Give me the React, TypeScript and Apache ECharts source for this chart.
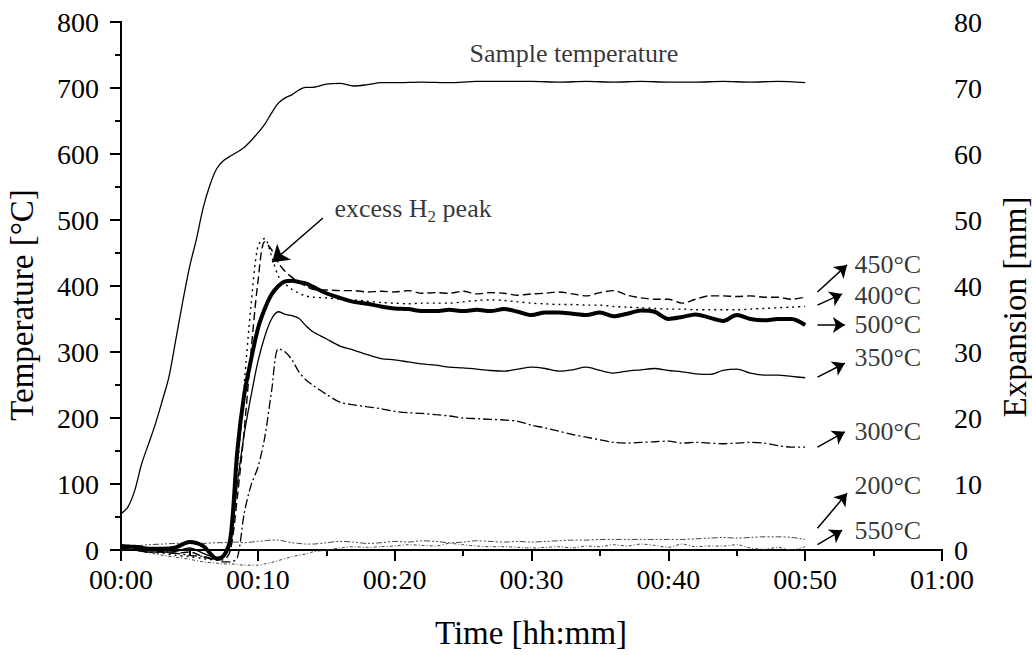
import React, { useEffect, useRef } from "react";
import * as echarts from "echarts";

const FONT = '"Liberation Serif", "Times New Roman", Times, serif';

// Sample temperature (left axis, °C) vs time (minutes)
const tempTime = [0, 0.5, 1, 1.5, 2, 2.5, 3, 3.5, 4, 4.5, 5, 5.5, 6, 6.5, 7, 7.5, 8, 8.5, 9, 9.5, 10, 10.5, 11, 11.5, 12, 12.5, 13, 13.5, 14, 15, 16, 17, 18, 19, 20, 22, 24, 26, 28, 30, 32, 34, 36, 38, 40, 42, 44, 46, 48, 50];
const sampleTemp = [55, 65, 90, 130, 160, 190, 225, 262, 318, 375, 428, 470, 518, 553, 578, 590, 597, 603, 610, 620, 632, 645, 662, 677, 685, 690, 697, 701, 701, 706, 707, 703, 705, 708, 708, 709, 708, 710, 710, 710, 709, 710, 709, 710, 709, 709, 710, 709, 710, 708];

// Expansion curves (right axis, mm) vs time (minutes)
const expTime = [0, 1, 2, 3, 4, 5, 6, 7, 7.5, 8, 8.5, 9, 9.5, 10, 10.5, 11, 11.5, 12, 12.5, 13, 13.5, 14, 15, 16, 17, 18, 19, 20, 21, 22, 23, 24, 25, 26, 27, 28, 29, 30, 31, 32, 33, 34, 35, 36, 37, 38, 39, 40, 41, 42, 43, 44, 45, 46, 47, 48, 49, 50];
const exp500 = [0.5, 0.5, 0.2, 0.2, 0.4, 1.2, 0.6, -1.3, -0.9, 1.8, 15, 23.5, 28.8, 33.5, 36.5, 38.7, 40.0, 40.7, 40.8, 40.6, 40.4, 39.9, 38.9, 38.2, 37.6, 37.3, 36.9, 36.6, 36.5, 36.2, 36.2, 36.4, 36.2, 36.4, 36.2, 36.5, 36.1, 35.6, 36.0, 36.0, 35.8, 35.6, 36.0, 35.4, 35.8, 36.3, 36.1, 35.0, 35.3, 35.7, 35.2, 34.7, 35.6, 35.0, 34.8, 35.0, 35.0, 34.1];
const exp450 = [0.5, 0.3, 0, -0.3, -0.5, -0.3, -1.0, -1.5, -1.5, 0, 8, 18, 30, 40.5, 46.7, 45.5, 43.5, 42.2, 41.3, 40.6, 40.0, 39.5, 39.4, 39.3, 39.3, 39.1, 39.2, 39.1, 39.3, 38.9, 39.0, 38.9, 39.2, 38.8, 39.0, 38.9, 38.6, 38.8, 38.9, 39.1, 38.8, 38.5, 39.0, 39.3, 38.6, 38.2, 38.0, 38.0, 37.4, 38.0, 38.5, 38.5, 38.4, 38.5, 38.3, 38.3, 38.0, 38.3];
const exp400 = [0.3, 0, -0.3, -0.5, -0.8, -1.0, -1.3, -1.5, -1.0, 2, 12, 25, 37, 46, 47.2, 44.5, 41.5, 40.3, 39.5, 38.9, 38.5, 38.3, 38.2, 38.0, 37.9, 37.7, 37.5, 37.4, 37.3, 37.4, 37.4, 37.4, 37.6, 37.8, 37.9, 37.8, 37.6, 37.4, 37.3, 37.2, 37.2, 37.1, 37.1, 36.9, 36.8, 36.7, 36.6, 36.5, 36.5, 36.4, 36.4, 36.4, 36.4, 36.5, 36.6, 36.7, 36.8, 36.9];
const exp350 = [0.3, 0, -0.3, -0.3, -0.2, 0.3, -0.5, -1.2, -1.0, 1, 10, 17.5, 23.3, 28.5, 32.3, 35.0, 36.1, 35.7, 35.5, 35.1, 34.0, 33.1, 32.0, 30.9, 30.3, 29.6, 29.0, 28.8, 28.5, 28.2, 28.0, 27.7, 27.6, 27.4, 27.2, 27.1, 27.4, 27.7, 27.5, 27.1, 27.3, 27.7, 27.2, 26.8, 27.1, 27.3, 27.5, 27.2, 27.0, 26.7, 26.6, 27.2, 27.4, 26.8, 26.5, 26.5, 26.3, 26.1];
const exp300 = [0.8, 0.6, 0.2, -0.2, -0.5, -0.8, -1.0, -1.5, -1.8, -1.8, -1.2, 5.5, 9.8, 12.5, 17, 24, 30.5, 30.0, 28.8, 27.0, 25.8, 25.0, 23.6, 22.4, 22.0, 21.7, 21.4, 21.0, 20.8, 20.7, 20.5, 20.3, 20.0, 19.9, 19.8, 19.7, 19.5, 18.9, 18.5, 18.0, 17.5, 17.1, 16.7, 16.3, 16.2, 16.3, 16.4, 16.5, 16.2, 16.3, 16.2, 16.1, 16.2, 16.3, 16.2, 15.8, 15.6, 15.6];
const exp200 = [0.5, 0.6, 0.8, 0.9, 1.0, 1.1, 1.0, 1.1, 1.1, 1.2, 1.2, 1.1, 1.2, 1.3, 1.4, 1.5, 1.5, 1.3, 1.1, 1.0, 0.9, 0.9, 1.1, 1.3, 1.2, 1.0, 1.1, 1.3, 1.2, 1.4, 1.3, 1.1, 1.2, 1.4, 1.3, 1.2, 1.3, 1.2, 1.3, 1.4, 1.5, 1.5, 1.6, 1.6, 1.6, 1.6, 1.6, 1.6, 1.6, 1.7, 1.8, 1.9, 1.8, 1.9, 2.0, 2.0, 1.9, 1.6];
const exp550 = [0.2, 0, -0.4, -0.8, -1.1, -1.4, -1.8, -2.0, -2.1, -2.1, -2.2, -2.3, -2.3, -2.3, -2.1, -1.9, -1.6, -1.3, -1.0, -0.8, -0.6, -0.3, 0, 0.3, 0.5, 0.4, 0.5, 0.6, 0.8, 0.7, 0.6, 1.0, 0.8, 0.6, 0.5, 0.5, 0.4, 0.3, 0.4, 0.5, 0.3, 0.6, 0.5, 0.8, 0.6, 0.9, 0.7, 0.4, 0.9, 0.5, 0.6, 0.6, 0.8, 0.3, 0.1, 0.4, 0, 0.5];

// Annotations (right axis coordinates)
const curveLabels = ["450°C", "400°C", "500°C", "350°C", "300°C", "200°C", "550°C"];
const curveLabelX = 53.6;
const curveLabelY = [43.2, 38.6, 34.1, 29.2, 17.9, 9.7, 3.0];
const arrowFromX = 50.9;
const arrowFromY = [39.1, 37.1, 34.1, 26.2, 15.6, 3.3, 0.8];
const arrowToX = [53.06, 52.7, 52.9, 52.9, 52.9, 53.06, 52.7];
const arrowToY = [43.2, 38.8, 34.1, 28.3, 17.9, 8.6, 3.0];

const peakLabel = { x: 15.6, y: 51.8 };
const peakArrowFrom = [14.76, 50.3];
const peakArrowTo = [11.04, 43.6];
const sampleLabel = { x: 33.1, y: 753, text: "Sample temperature" };

const pairs = (t: number[], v: number[]) => t.map((x, i) => [x, v[i]]);
const pad = (n: number) => (n < 10 ? "0" + n : "" + n);
const fmtTime = (v: number) => pad(Math.floor(v / 60)) + ":" + pad(Math.round(v % 60));

export default function App() {
  const ref = useRef<HTMLDivElement>(null);
  useEffect(() => {
    document.body.style.margin = "0";
    if (!ref.current) return;
    const chart = echarts.init(ref.current, undefined, { renderer: "svg" });

    const line = (name: string, data: number[], yIdx: number, width: number, type: any, color = "#000", t = expTime) => ({
      name,
      type: "line",
      yAxisIndex: yIdx,
      data: pairs(t, data),
      symbol: "none",
      smooth: 0.3,
      clip: false,
      silent: true,
      lineStyle: { color, width, type },
      z: 3,
    });

    const axisCommon = {
      axisLine: { show: true, lineStyle: { color: "#000", width: 2 } },
      splitLine: { show: false },
      axisLabel: { color: "#000", fontFamily: FONT, fontSize: 28 },
    };

    chart.setOption({
      animation: false,
      backgroundColor: "#fff",
      grid: { left: 121, right: 90, top: 22, bottom: 105, containLabel: false },
      xAxis: [
        {
          type: "value",
          min: 0,
          max: 60,
          interval: 10,
          ...axisCommon,
          axisTick: { show: true, inside: false, length: 11, lineStyle: { color: "#000", width: 2 } },
          minorTick: { show: true, splitNumber: 2, length: 6, lineStyle: { color: "#000", width: 2 } },
          axisLabel: { ...axisCommon.axisLabel, margin: 15, formatter: (v: number) => fmtTime(v) },
        },
        {
          type: "value",
          position: "top",
          min: 0,
          max: 60,
          interval: 10,
          axisLine: { show: true, lineStyle: { color: "#000", width: 2 } },
          axisTick: { show: false },
          axisLabel: { show: false },
          splitLine: { show: false },
        },
      ],
      yAxis: [
        {
          type: "value",
          min: 0,
          max: 800,
          interval: 100,
          ...axisCommon,
          axisTick: { show: true, inside: false, length: 11, lineStyle: { color: "#000", width: 2 } },
          minorTick: { show: true, splitNumber: 2, length: 6, lineStyle: { color: "#000", width: 2 } },
          axisLabel: { ...axisCommon.axisLabel, margin: 22 },
        },
        {
          type: "value",
          position: "right",
          min: 0,
          max: 80,
          interval: 10,
          ...axisCommon,
          axisTick: { show: true, inside: true, length: 11, lineStyle: { color: "#000", width: 2 } },
          minorTick: { show: true, splitNumber: 2, length: 6, lineStyle: { color: "#000", width: 2 } },
          axisLabel: { ...axisCommon.axisLabel, margin: 12 },
        },
      ],
      graphic: [
        {
          type: "text",
          x: 22,
          y: 305,
          rotation: Math.PI / 2,
          style: { text: "Temperature [°C]", font: `33px ${FONT}`, fill: "#000", align: "center", verticalAlign: "middle" },
        },
        {
          type: "text",
          x: 1015,
          y: 307,
          rotation: Math.PI / 2,
          style: { text: "Expansion [mm]", font: `33px ${FONT}`, fill: "#000", align: "center", verticalAlign: "middle" },
        },
        {
          type: "text",
          x: 531,
          y: 633,
          style: { text: "Time [hh:mm]", font: `33px ${FONT}`, fill: "#000", align: "center", verticalAlign: "middle" },
        },
      ],
      series: [
        line("Sample temperature", sampleTemp, 0, 1.3, "solid", "#000", tempTime),
        line("550°C", exp550, 1, 1, [3, 2, 1, 2], "#444"),
        line("200°C", exp200, 1, 1, [6, 2, 2, 2, 2, 2], "#444"),
        line("300°C", exp300, 1, 1.3, [9, 3, 2, 3]),
        line("350°C", exp350, 1, 1.3, "solid"),
        line("400°C", exp400, 1, 1.4, [2, 4]),
        line("450°C", exp450, 1, 1.4, [8, 4]),
        line("500°C", exp500, 1, 4, "solid"),
        {
          type: "scatter",
          yAxisIndex: 1,
          symbolSize: 0,
          silent: true,
          data: curveLabels.map((n, i) => ({ name: n, value: [curveLabelX, curveLabelY[i]] })),
          label: { show: true, position: "right", distance: 0, formatter: "{b}", color: "#000", fontFamily: FONT, fontSize: 26 },
          markLine: {
            silent: true,
            symbol: ["none", "arrow"],
            symbolSize: 12,
            label: { show: false },
            lineStyle: { color: "#000", width: 1.5, type: "solid" },
            emphasis: { disabled: true },
            data: arrowFromY.map((fy, i) => [
              { coord: [arrowFromX, fy] },
              { coord: [arrowToX[i], arrowToY[i]] },
            ]),
          },
          z: 5,
        },
        {
          type: "scatter",
          yAxisIndex: 1,
          symbolSize: 0,
          silent: true,
          data: [{ name: "peak", value: [peakLabel.x, peakLabel.y] }],
          label: {
            show: true,
            position: "right",
            distance: 0,
            formatter: "{n|excess H}{s|2}{n| peak}",
            rich: {
              n: { fontFamily: FONT, fontSize: 26, color: "#000", lineHeight: 34, verticalAlign: "middle" },
              s: { fontFamily: FONT, fontSize: 17, color: "#000", lineHeight: 34, verticalAlign: "bottom" },
            },
          },
          markLine: {
            silent: true,
            symbol: ["none", "arrow"],
            symbolSize: 16,
            label: { show: false },
            lineStyle: { color: "#000", width: 1.5, type: "solid" },
            emphasis: { disabled: true },
            data: [[{ coord: peakArrowFrom }, { coord: peakArrowTo }]],
          },
          z: 5,
        },
        {
          type: "scatter",
          yAxisIndex: 0,
          symbolSize: 0,
          silent: true,
          data: [{ name: sampleLabel.text, value: [sampleLabel.x, sampleLabel.y] }],
          label: { show: true, position: "inside", formatter: "{b}", color: "#000", fontFamily: FONT, fontSize: 26 },
          z: 5,
        },
      ],
    });
    return () => chart.dispose();
  }, []);
  return <div ref={ref} style={{ width: 1032, height: 655 }} />;
}
